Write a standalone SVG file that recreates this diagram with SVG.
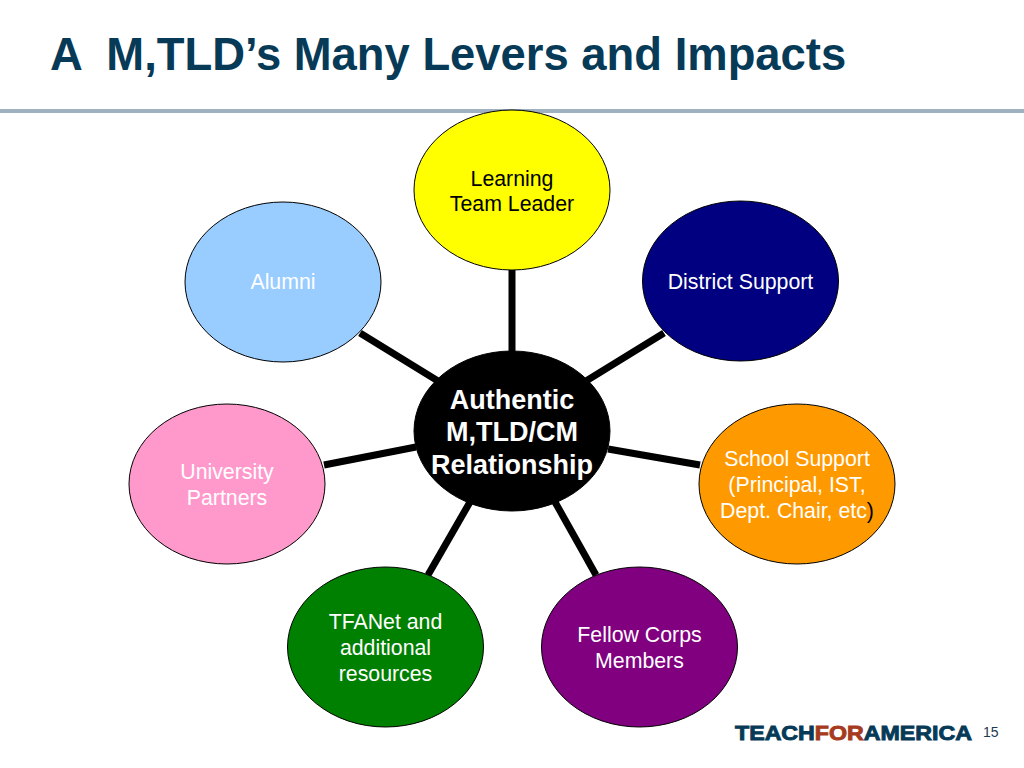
<svg xmlns="http://www.w3.org/2000/svg" width="1024" height="768" viewBox="0 0 1024 768">
<style>
text{font-family:"Liberation Sans",Arial,sans-serif}
.t{font-size:21.3px;text-anchor:middle}
.w{fill:#fff}
.k{fill:#000}
.n{stroke:#000;stroke-width:1}
.c{stroke:#000;stroke-width:7;fill:none}
.h{font-size:27px;font-weight:bold;fill:#fff;text-anchor:middle}
</style>
<rect width="1024" height="768" fill="#fff"/>
<g id="title"><text x="50" y="70" font-size="45.400" font-weight="bold" fill="#063a57" xml:space="preserve">A  M,TLD’s Many Levers and Impacts</text></g>
<rect id="rule" x="0" y="109" width="1024" height="4" fill="#9fb0be"/>
<g id="connectors">
<line class="c" x1="512" y1="270" x2="512" y2="352"/>
<line class="c" x1="360" y1="333" x2="438" y2="381"/>
<line class="c" x1="664" y1="333" x2="586" y2="381"/>
<line class="c" x1="324" y1="465" x2="416" y2="447"/>
<line class="c" x1="700" y1="465" x2="608" y2="449"/>
<line class="c" x1="428" y1="575" x2="470" y2="502"/>
<line class="c" x1="596" y1="575" x2="555" y2="502"/>
</g>
<g id="node-learning"><ellipse class="n" cx="512" cy="190" rx="98" ry="80" fill="#ffff00"/><text class="t k" x="512" y="186">Learning</text><text class="t k" x="512" y="211">Team Leader</text></g>
<g id="node-district"><ellipse class="n" cx="740.500" cy="281" rx="98" ry="80" fill="#000080"/><text class="t w" x="740.500" y="289">District Support</text></g>
<g id="node-school"><ellipse class="n" cx="797" cy="484" rx="98" ry="80" fill="#ff9900"/><text class="t w" x="797" y="466">School Support</text><text class="t w" x="797" y="492">(Principal, IST,</text><text class="t w" x="797" y="518">Dept. Chair, etc<tspan class="k">)</tspan></text></g>
<g id="node-fellow"><ellipse class="n" cx="639.500" cy="647" rx="98" ry="80" fill="#800080"/><text class="t w" x="639.500" y="642">Fellow Corps</text><text class="t w" x="639.500" y="668">Members</text></g>
<g id="node-tfanet"><ellipse class="n" cx="385.500" cy="647" rx="98" ry="80" fill="#008000"/><text class="t w" x="385.500" y="629">TFANet and</text><text class="t w" x="385.500" y="655">additional</text><text class="t w" x="385.500" y="681">resources</text></g>
<g id="node-university"><ellipse class="n" cx="227" cy="484" rx="98" ry="80" fill="#ff99cc"/><text class="t w" x="227" y="479">University</text><text class="t w" x="227" y="505">Partners</text></g>
<g id="node-alumni"><ellipse class="n" cx="283" cy="282" rx="98" ry="80" fill="#99ccff"/><text class="t w" x="283" y="289">Alumni</text></g>
<g id="node-center"><ellipse class="n" cx="512" cy="431" rx="98" ry="80" fill="#000"/><text class="h" x="512" y="409">Authentic</text><text class="h" x="512" y="441">M,TLD/CM</text><text class="h" x="512" y="474">Relationship</text></g>
<g id="logo"><text x="735" y="740" font-size="20.500" font-weight="900" stroke="#063a57" stroke-width=".9" fill="#063a57" textLength="237" lengthAdjust="spacingAndGlyphs">TEACH<tspan fill="#a63a1e" stroke="#a63a1e">FOR</tspan>AMERICA</text></g>
<text id="page" x="983" y="737" font-size="14" fill="#1c3a50">15</text>
</svg>
